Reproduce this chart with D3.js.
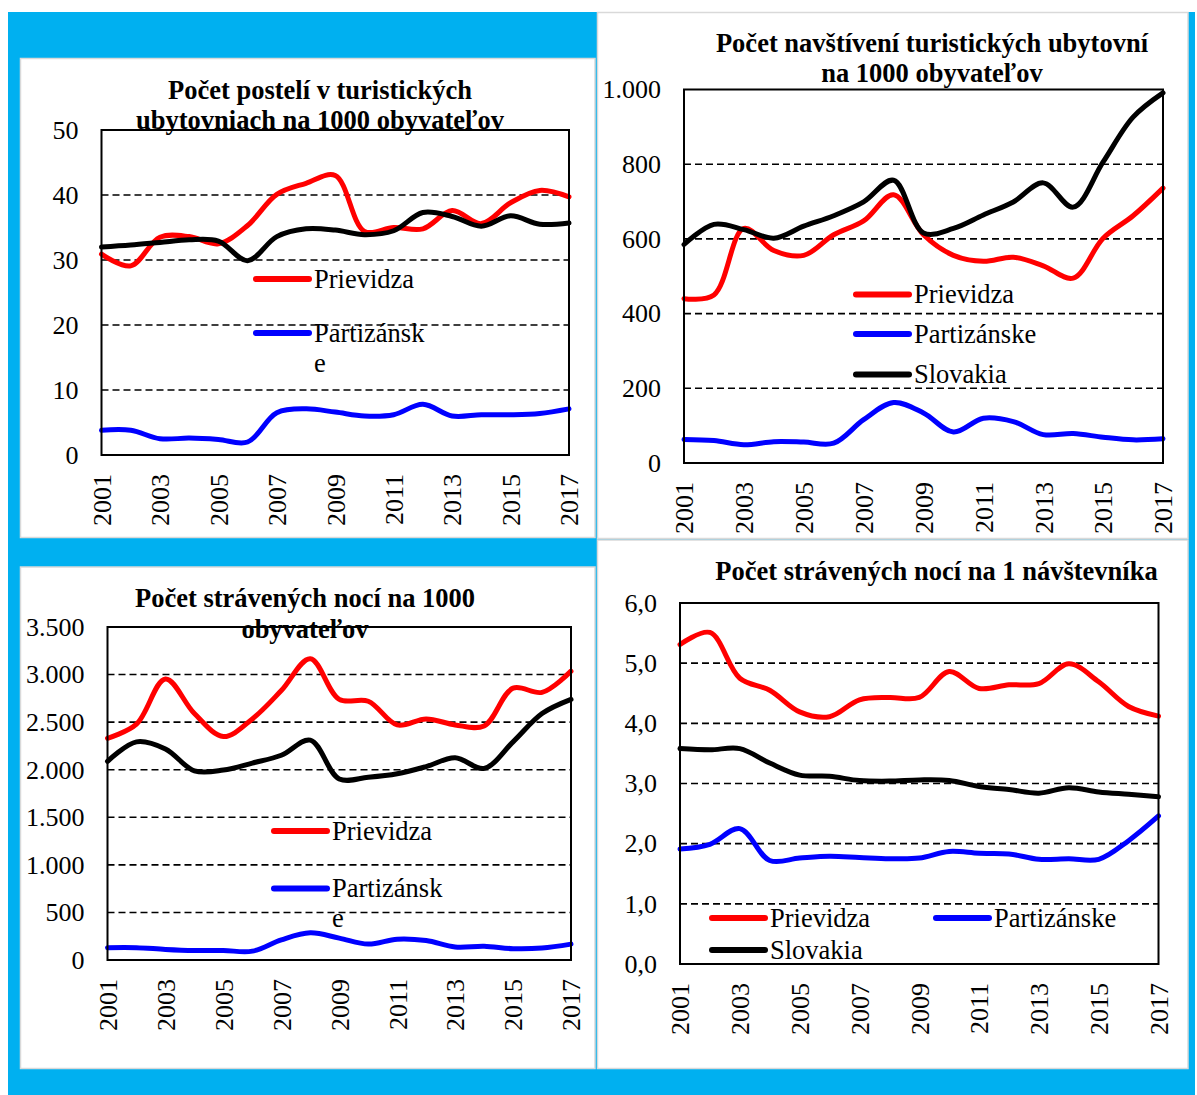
<!DOCTYPE html>
<html>
<head>
<meta charset="utf-8">
<script src="https://cdn.jsdelivr.net/npm/d3@7"></script>
<style>
body { margin: 0; background: #fff; }
svg text { font-family: "Liberation Serif", "Times New Roman", serif; fill: #000; }
</style>
</head>
<body>
<svg id="chart" width="1197" height="1095"></svg>
<script>
// ---------- data ----------
var years = [2001, 2002, 2003, 2004, 2005, 2006, 2007, 2008, 2009, 2010, 2011, 2012, 2013, 2014, 2015, 2016, 2017];
var yearTicks = [2001, 2003, 2005, 2007, 2009, 2011, 2013, 2015, 2017];

// beds per 1000 inhabitants
var bedsPrievidza   = [30.9, 29.1, 33.5, 33.6, 32.5, 35.3, 40.1, 41.8, 43.0, 34.4, 35.0, 34.8, 37.6, 35.6, 38.8, 40.7, 39.7];
var bedsPartizanske = [3.8, 3.8, 2.5, 2.6, 2.4, 2.0, 6.5, 7.1, 6.6, 6.0, 6.2, 7.8, 6.0, 6.2, 6.2, 6.4, 7.1];
var bedsSlovakia    = [32.0, 32.3, 32.7, 33.1, 32.9, 29.9, 33.6, 34.8, 34.6, 33.9, 34.5, 37.3, 36.7, 35.2, 36.8, 35.5, 35.7];

// visits per 1000 inhabitants
var visitsPrievidza   = [440, 450, 628, 569, 556, 611, 648, 718, 611, 556, 540, 551, 528, 495, 602, 662, 736];
var visitsPartizanske = [63, 60, 49, 57, 56, 53, 116, 162, 134, 83, 120, 111, 76, 79, 69, 62, 65];
var visitsSlovakia    = [585, 639, 625, 602, 634, 662, 699, 757, 616, 628, 664, 699, 750, 685, 806, 926, 991];

// nights per 1000 inhabitants
var nightsPrievidza   = [2330, 2479, 2954, 2590, 2349, 2534, 2832, 3166, 2739, 2720, 2471, 2534, 2471, 2460, 2858, 2813, 3036];
var nightsPartizanske = [130, 130, 111, 100, 100, 93, 212, 286, 230, 167, 219, 204, 137, 145, 119, 126, 167];
var nightsSlovakia    = [2088, 2293, 2218, 1988, 1996, 2070, 2152, 2311, 1903, 1921, 1958, 2033, 2126, 2014, 2293, 2590, 2739];

// nights per visitor
var perVisitorPrievidza   = [5.31, 5.51, 4.75, 4.55, 4.19, 4.11, 4.39, 4.43, 4.43, 4.86, 4.58, 4.64, 4.66, 4.99, 4.69, 4.28, 4.12];
var perVisitorPartizanske = [1.91, 1.99, 2.25, 1.72, 1.76, 1.79, 1.77, 1.75, 1.76, 1.87, 1.84, 1.83, 1.74, 1.75, 1.74, 2.05, 2.46];
var perVisitorSlovakia    = [3.58, 3.56, 3.58, 3.34, 3.14, 3.12, 3.05, 3.04, 3.06, 3.05, 2.95, 2.90, 2.84, 2.93, 2.86, 2.82, 2.78];

var ticks50   = [0, 10, 20, 30, 40, 50];
var ticks1000 = [0, 200, 400, 600, 800, 1000];
var ticks3500 = [0, 500, 1000, 1500, 2000, 2500, 3000, 3500];
var ticks6    = [0, 1, 2, 3, 4, 5, 6];

var colors = { Prievidza: "#ff0000", "Partizánske": "#0000ff", Slovakia: "#000000" };

// ---------- page ----------
var serif = '"Liberation Serif", "Times New Roman", serif';
var sk = d3.formatLocale({ decimal: ",", thousands: ".", grouping: [3], currency: ["", " €"] });

var svg = d3.select("#chart");

svg.append("rect")
    .attr("x", 8).attr("y", 12)
    .attr("width", 1187).attr("height", 1083)
    .attr("fill", "#00b0f0");

var charts = [
    {
        panel: [20.5, 58.5, 574.5, 479],
        plot: { left: 101.5, right: 569, top: 130, bottom: 455 },
        max: 50, ticks: ticks50, fmt: sk.format("d"),
        title: ["Počet postelí v turistických", "ubytovniach na 1000 obyvateľov"],
        titleX: 320, titleY: [98.5, 129],
        series: [
            { name: "Prievidza", values: bedsPrievidza },
            { name: "Partizánske", values: bedsPartizanske },
            { name: "Slovakia", values: bedsSlovakia }
        ],
        legend: [
            { name: "Prievidza", x: 256, y: 279, lines: ["Prievidza"] },
            { name: "Partizánske", x: 256, y: 333, lines: ["Partizánsk", "e"] }
        ]
    },
    {
        panel: [597.5, 12.5, 590.5, 526],
        plot: { left: 684, right: 1163, top: 89.5, bottom: 463 },
        max: 1000, ticks: ticks1000, fmt: sk.format(",d"),
        title: ["Počet navštívení turistických ubytovní", "na 1000 obyvateľov"],
        titleX: 932, titleY: [51.5, 82],
        series: [
            { name: "Prievidza", values: visitsPrievidza },
            { name: "Partizánske", values: visitsPartizanske },
            { name: "Slovakia", values: visitsSlovakia }
        ],
        legend: [
            { name: "Prievidza", x: 856, y: 294.5, lines: ["Prievidza"] },
            { name: "Partizánske", x: 856, y: 334, lines: ["Partizánske"] },
            { name: "Slovakia", x: 856, y: 374.5, lines: ["Slovakia"] }
        ]
    },
    {
        panel: [20.5, 567, 574.5, 501.5],
        plot: { left: 107.5, right: 571, top: 627, bottom: 960 },
        max: 3500, ticks: ticks3500, fmt: sk.format(",d"),
        title: ["Počet strávených nocí na 1000", "obyvateľov"],
        titleX: 305, titleY: [607, 638],
        series: [
            { name: "Prievidza", values: nightsPrievidza },
            { name: "Partizánske", values: nightsPartizanske },
            { name: "Slovakia", values: nightsSlovakia }
        ],
        legend: [
            { name: "Prievidza", x: 274, y: 831, lines: ["Prievidza"] },
            { name: "Partizánske", x: 274, y: 888.5, lines: ["Partizánsk", "e"] }
        ]
    },
    {
        panel: [597.5, 540, 590.5, 528.5],
        plot: { left: 680, right: 1158.5, top: 603, bottom: 964 },
        max: 6, ticks: ticks6, fmt: sk.format(".1f"),
        title: ["Počet strávených nocí na 1 návštevníka"],
        titleX: 936.5, titleY: [579.5],
        series: [
            { name: "Prievidza", values: perVisitorPrievidza },
            { name: "Partizánske", values: perVisitorPartizanske },
            { name: "Slovakia", values: perVisitorSlovakia }
        ],
        legend: [
            { name: "Prievidza", x: 712, y: 918, lines: ["Prievidza"] },
            { name: "Partizánske", x: 936, y: 918, lines: ["Partizánske"] },
            { name: "Slovakia", x: 712, y: 950, lines: ["Slovakia"] }
        ]
    }
];

charts.forEach(drawChart);

function drawChart(c) {
    var p = c.plot;

    // white panel
    svg.append("rect")
        .attr("x", c.panel[0]).attr("y", c.panel[1])
        .attr("width", c.panel[2]).attr("height", c.panel[3])
        .attr("fill", "#fff")
        .attr("stroke", "#d9d9d9")
        .attr("stroke-width", 1.5);

    var x = d3.scaleLinear().domain([2001, 2017]).range([p.left, p.right]);
    var y = d3.scaleLinear().domain([0, c.max]).range([p.bottom, p.top]);

    var g = svg.append("g");

    // dashed gridlines
    g.selectAll("line.grid")
        .data(c.ticks.filter(function(t) { return t > 0 && t < c.max; }))
        .enter().append("line")
        .attr("class", "grid")
        .attr("x1", p.left).attr("x2", p.right)
        .attr("y1", function(d) { return y(d); })
        .attr("y2", function(d) { return y(d); })
        .attr("stroke", "#000")
        .attr("stroke-width", 1.6)
        .attr("stroke-dasharray", "7,4");

    // y axis labels
    var yAxis = g.append("g")
        .attr("transform", "translate(" + p.left + ",0)")
        .call(d3.axisLeft(y).tickValues(c.ticks).tickSize(0).tickPadding(23).tickFormat(c.fmt))
        .attr("font-family", serif)
        .attr("font-size", 26);
    yAxis.select(".domain").remove();
    yAxis.selectAll("text")
        .style("font-family", serif)
        .style("font-size", "26px");

    // x axis labels, rotated
    var xAxis = g.append("g")
        .attr("transform", "translate(0," + p.bottom + ")")
        .call(d3.axisBottom(x).tickValues(yearTicks).tickSize(0).tickFormat(d3.format("d")))
        .attr("font-family", serif)
        .attr("font-size", 26);
    xAxis.select(".domain").remove();
    xAxis.selectAll("text")
        .style("font-family", serif)
        .style("font-size", "26px")
        .attr("transform", "rotate(-90)")
        .attr("x", -19)
        .attr("y", 0)
        .attr("dy", "0.34em")
        .style("text-anchor", "end");

    // series
    var line = d3.line()
        .x(function(d, i) { return x(years[i]); })
        .y(function(d) { return y(d); })
        .curve(d3.curveCatmullRom.alpha(0.5));

    g.selectAll("path.series")
        .data(c.series)
        .enter().append("path")
        .attr("class", "series")
        .attr("d", function(s) { return line(s.values); })
        .attr("fill", "none")
        .attr("stroke", function(s) { return colors[s.name]; })
        .attr("stroke-width", 5)
        .attr("stroke-linejoin", "round")
        .attr("stroke-linecap", "round");

    // plot border
    g.append("rect")
        .attr("x", p.left).attr("y", p.top)
        .attr("width", p.right - p.left).attr("height", p.bottom - p.top)
        .attr("fill", "none")
        .attr("stroke", "#000")
        .attr("stroke-width", 2);

    // legend
    var leg = g.selectAll("g.legend")
        .data(c.legend)
        .enter().append("g")
        .attr("class", "legend");

    leg.append("line")
        .attr("x1", function(d) { return d.x; })
        .attr("x2", function(d) { return d.x + 53; })
        .attr("y1", function(d) { return d.y; })
        .attr("y2", function(d) { return d.y; })
        .attr("stroke", function(d) { return colors[d.name]; })
        .attr("stroke-width", 6)
        .attr("stroke-linecap", "round");

    leg.append("text")
        .attr("y", function(d) { return d.y + 8.5; })
        .style("font-family", serif)
        .style("font-size", "26.5px")
        .selectAll("tspan")
        .data(function(d) { return d.lines.map(function(l) { return { x: d.x + 58, text: l }; }); })
        .enter().append("tspan")
        .attr("x", function(d) { return d.x; })
        .attr("dy", function(d, i) { return i ? 30 : 0; })
        .text(function(d) { return d.text; });

    // title
    g.selectAll("text.title")
        .data(c.title)
        .enter().append("text")
        .attr("class", "title")
        .attr("x", c.titleX)
        .attr("y", function(d, i) { return c.titleY[i]; })
        .attr("text-anchor", "middle")
        .style("font-family", serif)
        .style("font-size", "26.5px")
        .style("font-weight", "bold")
        .text(function(d) { return d; });
}
</script>
</body>
</html>
